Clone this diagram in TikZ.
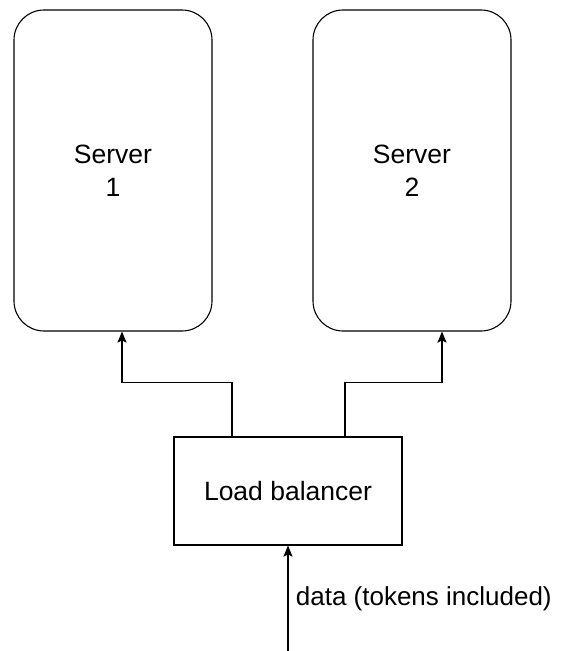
\documentclass[tikz,border=0pt]{standalone}
\usepackage{fontspec}
\setmainfont{Liberation Sans}
\usetikzlibrary{arrows.meta}
\begin{document}
\begin{tikzpicture}[x=1pt,y=-1pt,
  server/.style={draw, rounded corners=30pt, minimum width=198pt, minimum height=321pt,
    align=center, line width=1.1pt, font=\fontsize{26.5}{33}\selectfont},
  lbbox/.style={draw, minimum width=228pt, minimum height=108pt, line width=1.1pt,
    font=\fontsize{26.5}{33}\selectfont},
  conn/.style={draw, line width=1.1pt, -{Stealth[length=11pt,width=9pt,inset=2pt]}},
  lbl/.style={font=\fontsize{26}{32}\selectfont, anchor=west}
]
\useasboundingbox (0,0) rectangle (561,651);
\node[server] (s1) at (113,170.5) {Server\\1};
\node[server] (s2) at (412,170.5) {Server\\2};
\node[lbbox] (lb) at (288,491) {Load balancer};
\coordinate (src) at (288,651);
\draw[conn] ([xshift=-56pt]lb.north) -- ++(0,-54) -| ([xshift=9pt]s1.south);
\draw[conn] ([xshift=57pt]lb.north) -- ++(0,-54) -| ([xshift=30pt]s2.south);
\draw[conn] (src) -- (lb.south) node[lbl, pos=0.5, xshift=4pt] {data (tokens included)};
\end{tikzpicture}
\end{document}
